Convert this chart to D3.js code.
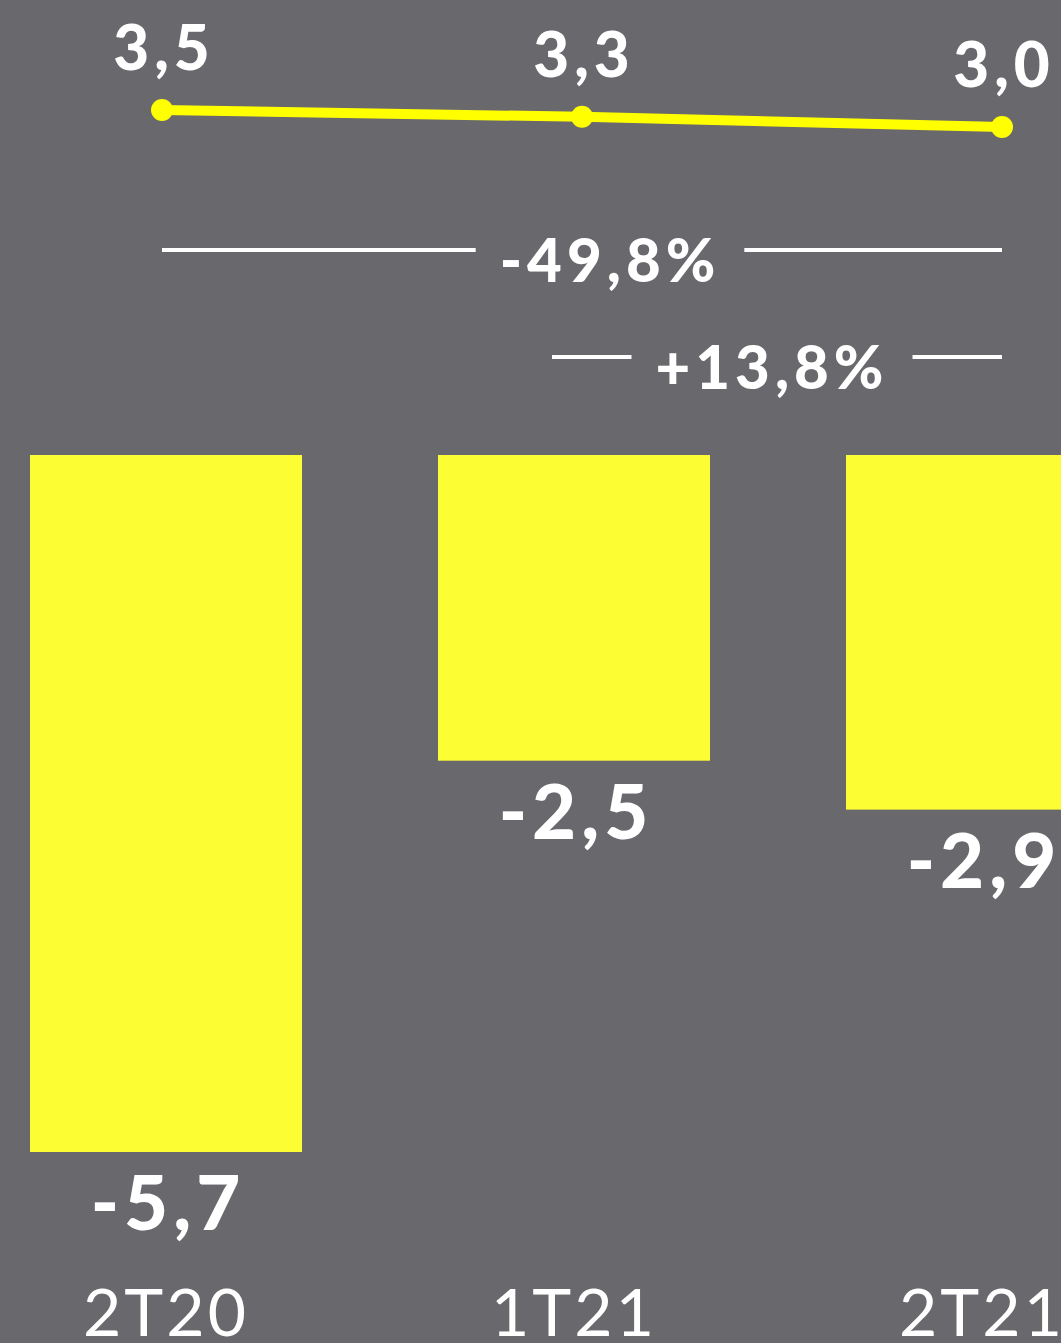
<!DOCTYPE html>
<html>
<head>
<meta charset="utf-8">
<script src="https://cdn.jsdelivr.net/npm/d3@7"></script>
<style>
  html, body { margin: 0; padding: 0; background: #69686d; }
  svg { display: block; }
  text { font-family: Lato, "Open Sans", sans-serif; fill: #ffffff; }
</style>
</head>
<body>
<div id="chart"></div>
<script>
// data
var categories = ['2T20', '1T21', '2T21'];
var barValues = [-5.7, -2.5, -2.9];
var barLabels = ['-5,7', '-2,5', '-2,9'];
var lineValues = [3.5, 3.3, 3.0];
var lineLabels = ['3,5', '3,3', '3,0'];
var variations = [
  { label: '-49,8%', from: '2T20', to: '2T21' },
  { label: '+13,8%', from: '1T21', to: '2T21' }
];

var width = 1061;
var height = 1343;

var bg = '#69686d';
var barColor = '#fdfd33';
var lineColor = '#ffff00';

var svg = d3.select('#chart')
  .append('svg')
    .attr('width', width)
    .attr('height', height);

svg.append('rect')
    .attr('width', width)
    .attr('height', height)
    .attr('fill', bg);

// scales
var x = d3.scaleBand()
    .domain(categories)
    .range([30, 1118])
    .paddingInner(1 / 3)
    .paddingOuter(0);

var y = d3.scaleLinear()
    .domain([0, -5.7])
    .range([455, 1152]);

var xLine = d3.scalePoint()
    .domain(categories)
    .range([162, 1002]);

var yLine = d3.scaleLinear()
    .domain([3.0, 3.5])
    .range([127, 110]);

// bars
svg.append('g')
    .selectAll('rect.bar')
    .data(barValues)
  .enter()
    .append('rect')
    .attr('class', 'bar')
    .attr('fill', barColor)
    .attr('x', function(d, i) { return x(categories[i]); })
    .attr('y', y(0))
    .attr('width', x.bandwidth())
    .attr('height', function(d) { return y(d) - y(0); });

// bar value labels
svg.append('g')
    .selectAll('text.bar-label')
    .data(barValues)
  .enter()
    .append('text')
    .attr('class', 'bar-label')
    .attr('font-size', '76px')
    .attr('font-weight', 900)
    .attr('letter-spacing', 5)
    .style('text-anchor', 'middle')
    .attr('x', function(d, i) { return x(categories[i]) + x.bandwidth() / 2 + 2; })
    .attr('y', function(d) { return y(d) + 78; })
    .text(function(d, i) { return barLabels[i]; });

// category axis
var axis = svg.append('g')
    .attr('transform', 'translate(0,1282)')
    .call(d3.axisBottom(x).tickSize(0).tickPadding(0));
axis.select('.domain').remove();
axis.selectAll('text')
    .attr('font-size', '66px')
    .attr('font-weight', 'normal')
    .attr('letter-spacing', 3)
    .attr('dy', '0')
    .attr('y', 54)
    .style('font-family', 'Lato, "Open Sans", sans-serif')
    .attr('fill', '#ffffff');

// line
var line = d3.line()
    .x(function(d, i) { return xLine(categories[i]); })
    .y(function(d) { return yLine(d); });

svg.append('path')
    .datum(lineValues)
    .attr('fill', 'none')
    .attr('stroke', lineColor)
    .attr('stroke-width', 10)
    .attr('d', line);

svg.append('g')
    .selectAll('circle')
    .data(lineValues)
  .enter()
    .append('circle')
    .attr('fill', lineColor)
    .attr('r', 11)
    .attr('cx', function(d, i) { return xLine(categories[i]); })
    .attr('cy', function(d) { return yLine(d); });

svg.append('g')
    .selectAll('text.line-label')
    .data(lineValues)
  .enter()
    .append('text')
    .attr('class', 'line-label')
    .attr('font-size', '62px')
    .attr('font-weight', 900)
    .attr('letter-spacing', 5)
    .style('text-anchor', 'middle')
    .attr('x', function(d, i) { return xLine(categories[i]) + 2; })
    .attr('y', function(d) { return yLine(d) - 40; })
    .text(function(d, i) { return lineLabels[i]; });

// variation brackets
var varRows = [250, 357];
variations.forEach(function(v, i) {
  var x1 = xLine(v.from);
  var x2 = xLine(v.to);
  var yy = varRows[i];
  var mid = i === 0 ? 610 : 772;
  var g = svg.append('g');
  var t = g.append('text')
      .attr('font-size', '60px')
      .attr('font-weight', 900)
      .attr('letter-spacing', 5)
      .style('text-anchor', 'middle')
      .attr('x', mid)
      .attr('y', yy + 32)
      .text(v.label);
  var w = t.node().getComputedTextLength();
  var gap = 24;
  g.append('line')
      .attr('stroke', '#ffffff')
      .attr('stroke-width', 4)
      .attr('x1', i === 0 ? x1 : 552)
      .attr('x2', mid - w / 2 - gap)
      .attr('y1', yy).attr('y2', yy);
  g.append('line')
      .attr('stroke', '#ffffff')
      .attr('stroke-width', 4)
      .attr('x1', mid + w / 2 + gap)
      .attr('x2', x2)
      .attr('y1', yy).attr('y2', yy);
});
</script>
</body>
</html>
